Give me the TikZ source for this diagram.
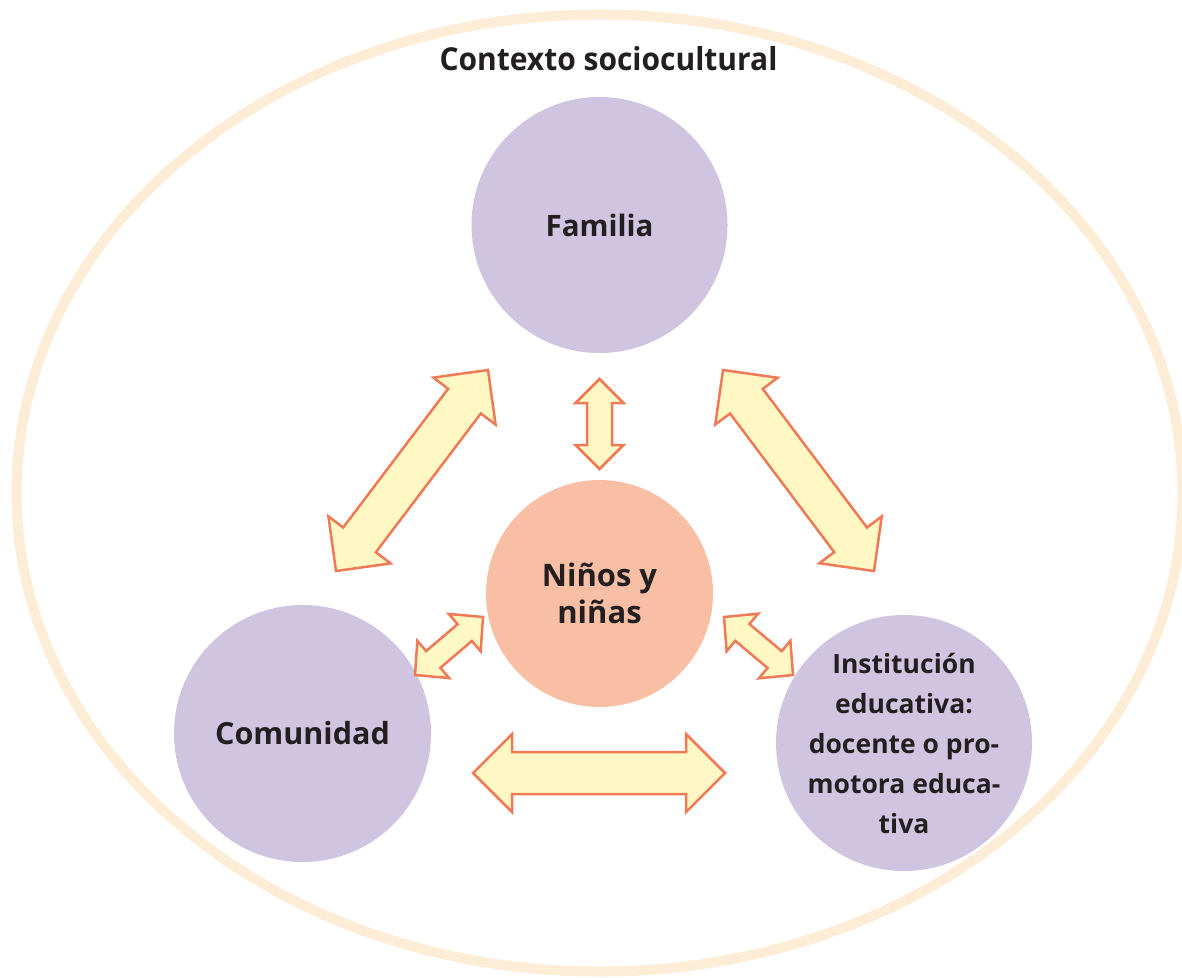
\documentclass[tikz,border=0pt]{standalone}
\usepackage{fontspec}
\setmainfont{Open Sans}
\usetikzlibrary{calc}
\definecolor{ring}{HTML}{FDEDD6}
\definecolor{lav}{HTML}{CFC5E1}
\definecolor{peach}{HTML}{F8BFA5}
\definecolor{arrfill}{HTML}{FFF8C4}
\definecolor{arrline}{HTML}{F07A55}
\definecolor{ink}{HTML}{231F20}
\tikzset{
  bubble/.style={circle, inner sep=0pt, fill=lav, text=ink, align=center,
    font=\fontsize{29.5}{40}\selectfont\bfseries},
  bubbletext/.style={inner sep=0pt, text=ink, align=center},
  barrow/.style={fill=arrfill, draw=arrline, line width=2.5pt, line join=miter},
}
% #1 from, #2 to, #3 shaft half width, #4 head half width, #5 head length
\newcommand\blockarrow[5]{%
  \draw[barrow] let \p1=(#1), \p2=(#2),
    \n1={atan2(\y2-\y1,\x2-\x1)} in
    (\p1) -- ($(\p1)+(\n1:#5)+(\n1+90:#4)$)
    -- ($(\p1)+(\n1:#5)+(\n1+90:#3)$)
    -- ($(\p2)+(\n1+180:#5)+(\n1+90:#3)$)
    -- ($(\p2)+(\n1+180:#5)+(\n1+90:#4)$)
    -- (\p2)
    -- ($(\p2)+(\n1+180:#5)+(\n1-90:#4)$)
    -- ($(\p2)+(\n1+180:#5)+(\n1-90:#3)$)
    -- ($(\p1)+(\n1:#5)+(\n1-90:#3)$)
    -- ($(\p1)+(\n1:#5)+(\n1-90:#4)$) -- cycle;}
\begin{document}
\begin{tikzpicture}[x=1pt,y=1pt]
\useasboundingbox (0,0) rectangle (1182,-977);
\fill[white] (0,0) rectangle (1182,-977);
\draw[ring, line width=10pt] (599.5,-493) ellipse [x radius=583, y radius=478.5];
\node[text=ink, inner sep=0pt] (title) at (608.5,-59)
  {\resizebox{338pt}{24pt}{\bfseries Contexto sociocultural}};

\node[bubble, minimum size=256pt] (fam) at (599.5,-225) {Familia};
\node[bubble, minimum size=227pt, fill=peach, font=\fontsize{31}{37}\selectfont\bfseries] (kids) at (599.5,-593.5) {Niños y\\niñas};
\node[bubble, minimum size=257pt, font=\fontsize{30.5}{40}\selectfont\bfseries] (com) at (302.5,-733.5) {Comunidad};
\node[bubble, minimum size=256pt,
  label={[bubbletext, font=\fontsize{26.5}{40}\selectfont\bfseries]center:Institución\\educativa:\\docente o pro-\\motora educa-\\tiva}]
  (inst) at (904,-743) {};

\coordinate (a1a) at (336,-571);
\coordinate (a1b) at (488,-370);
\coordinate (a2a) at (723,-370);
\coordinate (a2b) at (874,-571);
\coordinate (a3a) at (599.5,-379);
\coordinate (a3b) at (599.5,-469);
\coordinate (a4a) at (415,-675);
\coordinate (a4b) at (483,-617);
\coordinate (a5a) at (724,-617);
\coordinate (a5b) at (793,-675);
\coordinate (a6a) at (473,-773);
\coordinate (a6b) at (725,-773);

\blockarrow{a1a}{a1b}{20.5}{39}{39}
\blockarrow{a2a}{a2b}{20.5}{39}{39}
\blockarrow{a3a}{a3b}{12.5}{24}{24}
\blockarrow{a4a}{a4b}{11}{24.5}{24}
\blockarrow{a5a}{a5b}{11}{24.5}{24}
\blockarrow{a6a}{a6b}{21}{39}{39}
\end{tikzpicture}
\end{document}
